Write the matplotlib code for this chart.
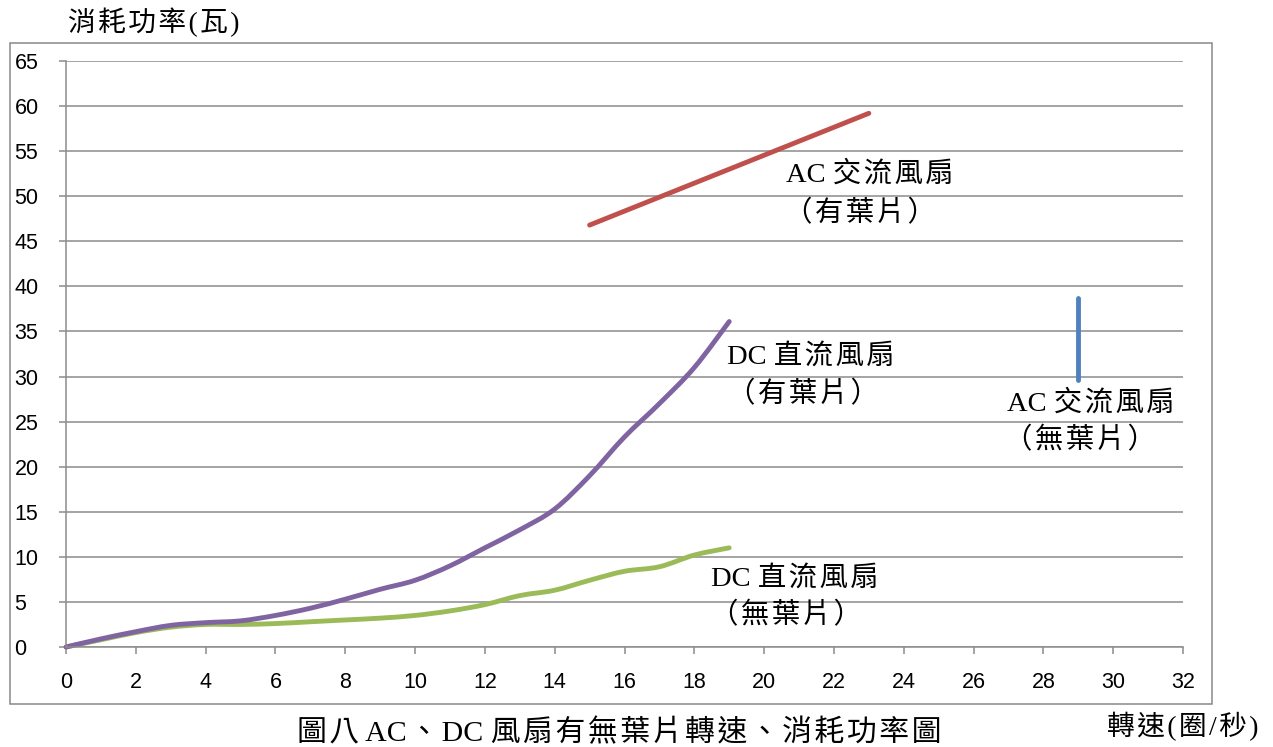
import matplotlib
matplotlib.use("Agg")
import numpy as np
import matplotlib.pyplot as plt
from matplotlib.patches import Rectangle, PathPatch
from matplotlib.path import Path

# --- data -------------------------------------------------------------------
# DC fan with blades
dc_blade_speed = list(range(0, 20))
dc_blade_power = [0.0, 0.9, 1.7, 2.4, 2.7, 2.9, 3.5, 4.3, 5.3, 6.4,
                  7.4, 9.0, 11.0, 13.0, 15.3, 19.0, 23.3, 27.0, 31.0, 36.1]
# DC fan without blades
dc_bladeless_speed = list(range(0, 20))
dc_bladeless_power = [0.0, 0.8, 1.6, 2.2, 2.5, 2.5, 2.6, 2.8, 3.0, 3.2,
                      3.5, 4.0, 4.7, 5.7, 6.3, 7.4, 8.4, 8.9, 10.2, 11.0]
# AC fan with blades
ac_blade_speed = [15, 23]
ac_blade_power = [46.8, 59.2]
# AC fan without blades
ac_bladeless_speed = [29, 29]
ac_bladeless_power = [29.6, 38.7]

x_ticks = list(range(0, 33, 2))
y_ticks = list(range(0, 66, 5))

series_labels = [
    ("AC 交流風扇", "（有葉片）"),
    ("DC 直流風扇", "（有葉片）"),
    ("AC 交流風扇", "（無葉片）"),
    ("DC 直流風扇", "（無葉片）"),
]

PURPLE = "#8064A2"
GREEN = "#9BBB59"
RED = "#C0504D"
BLUE = "#4F81BD"
GRID = "#8C8C8C"

TEXT_FONT = ["Liberation Serif", "Noto Sans CJK TC", "DejaVu Sans"]
TICK_FONT = ["Liberation Sans", "DejaVu Sans"]
HAIR = "\u200a"


def spaced(s):
    """Loosen CJK text a little with hair spaces between wide characters."""
    out = s[0]
    for a, b in zip(s, s[1:]):
        if (ord(a) > 127 or ord(b) > 127) and a != " " and b != " ":
            out += HAIR
        out += b
    return out


def smooth_path(xs, ys):
    """Cubic Bezier path through the points (Catmull-Rom style smoothing)."""
    p = np.column_stack([xs, ys]).astype(float)
    verts = [p[0]]
    codes = [Path.MOVETO]
    n = len(p)
    for i in range(n - 1):
        p0 = p[i - 1] if i > 0 else p[i]
        p3 = p[i + 2] if i + 2 < n else p[i + 1]
        c1 = p[i] + (p[i + 1] - p0) / 6
        c2 = p[i + 1] - (p3 - p[i]) / 6
        verts += [c1, c2, p[i + 1]]
        codes += [Path.CURVE4] * 3
    return Path(verts, codes)


W, H = 1273, 747
fig = plt.figure(figsize=(W / 100, H / 100), dpi=100)
fig.patch.set_facecolor("white")

# outer chart frame
fig.add_artist(Rectangle((10 / W, 1 - 704 / H), 1202 / W, 661 / H,
                         transform=fig.transFigure, fill=False,
                         edgecolor="#898989", linewidth=1.1))

ax = fig.add_axes([66 / W, 1 - 647 / H, 1117 / W, 586 / H])
ax.set_xlim(0, 32)
ax.set_ylim(0, 65)

ax.set_xticks(x_ticks)
ax.set_yticks(y_ticks)
ax.set_xticklabels([str(v) for v in x_ticks], family=TICK_FONT, fontsize=15.5)
ax.set_yticklabels([str(v) for v in y_ticks], family=TICK_FONT, fontsize=15.5)
for lab in ax.get_yticklabels():
    lab.set_horizontalalignment("left")
ax.tick_params(axis="both", direction="out", length=5, width=1.1, color=GRID)
ax.tick_params(axis="y", pad=32)
ax.tick_params(axis="x", pad=13)

ax.grid(axis="y", color=GRID, linewidth=1.1)
ax.set_axisbelow(True)
for side in ("top", "right"):
    ax.spines[side].set_visible(False)
for side in ("left", "bottom"):
    ax.spines[side].set_color(GRID)
    ax.spines[side].set_linewidth(1.1)

lw = 3.5
for xs, ys, col in [(dc_bladeless_speed, dc_bladeless_power, GREEN),
                    (dc_blade_speed, dc_blade_power, PURPLE)]:
    ax.add_patch(PathPatch(smooth_path(xs, ys), facecolor="none", edgecolor=col,
                           lw=lw, capstyle="round", joinstyle="round",
                           clip_on=False))
ax.plot(ac_blade_speed, ac_blade_power, color=RED, lw=lw,
        solid_capstyle="round")
ax.plot(ac_bladeless_speed, ac_bladeless_power, color=BLUE, lw=lw,
        solid_capstyle="round")

# series names, two lines each
label_pos = [
    ((23.03, 52.4), (22.75, 48.1)),
    ((21.34, 32.2), (21.10, 28.0)),
    ((29.37, 27.0), (29.05, 22.9)),
    ((20.88, 7.6), (20.63, 3.5)),
]
for (top, bottom), (p1, p2) in zip(series_labels, label_pos):
    ax.text(*p1, spaced(top), ha="center", va="center", family=TEXT_FONT,
            fontsize=20.5)
    ax.text(*p2, spaced(bottom), ha="center", va="center", family=TEXT_FONT,
            fontsize=20.5)

fig.text(68 / W, 1 - 22 / H, spaced("消耗功率(瓦)"), ha="left", va="center",
         family=TEXT_FONT, fontsize=20)
fig.text(1107 / W, 1 - 727 / H, spaced("轉速(圈/秒)"), ha="left", va="center",
         family=TEXT_FONT, fontsize=20)
fig.text(619 / W, 1 - 733 / H, spaced("圖八 AC、DC 風扇有無葉片轉速、消耗功率圖"),
         ha="center", va="center", family=TEXT_FONT, fontsize=21.5)

fig.savefig("out.png", dpi=100)
